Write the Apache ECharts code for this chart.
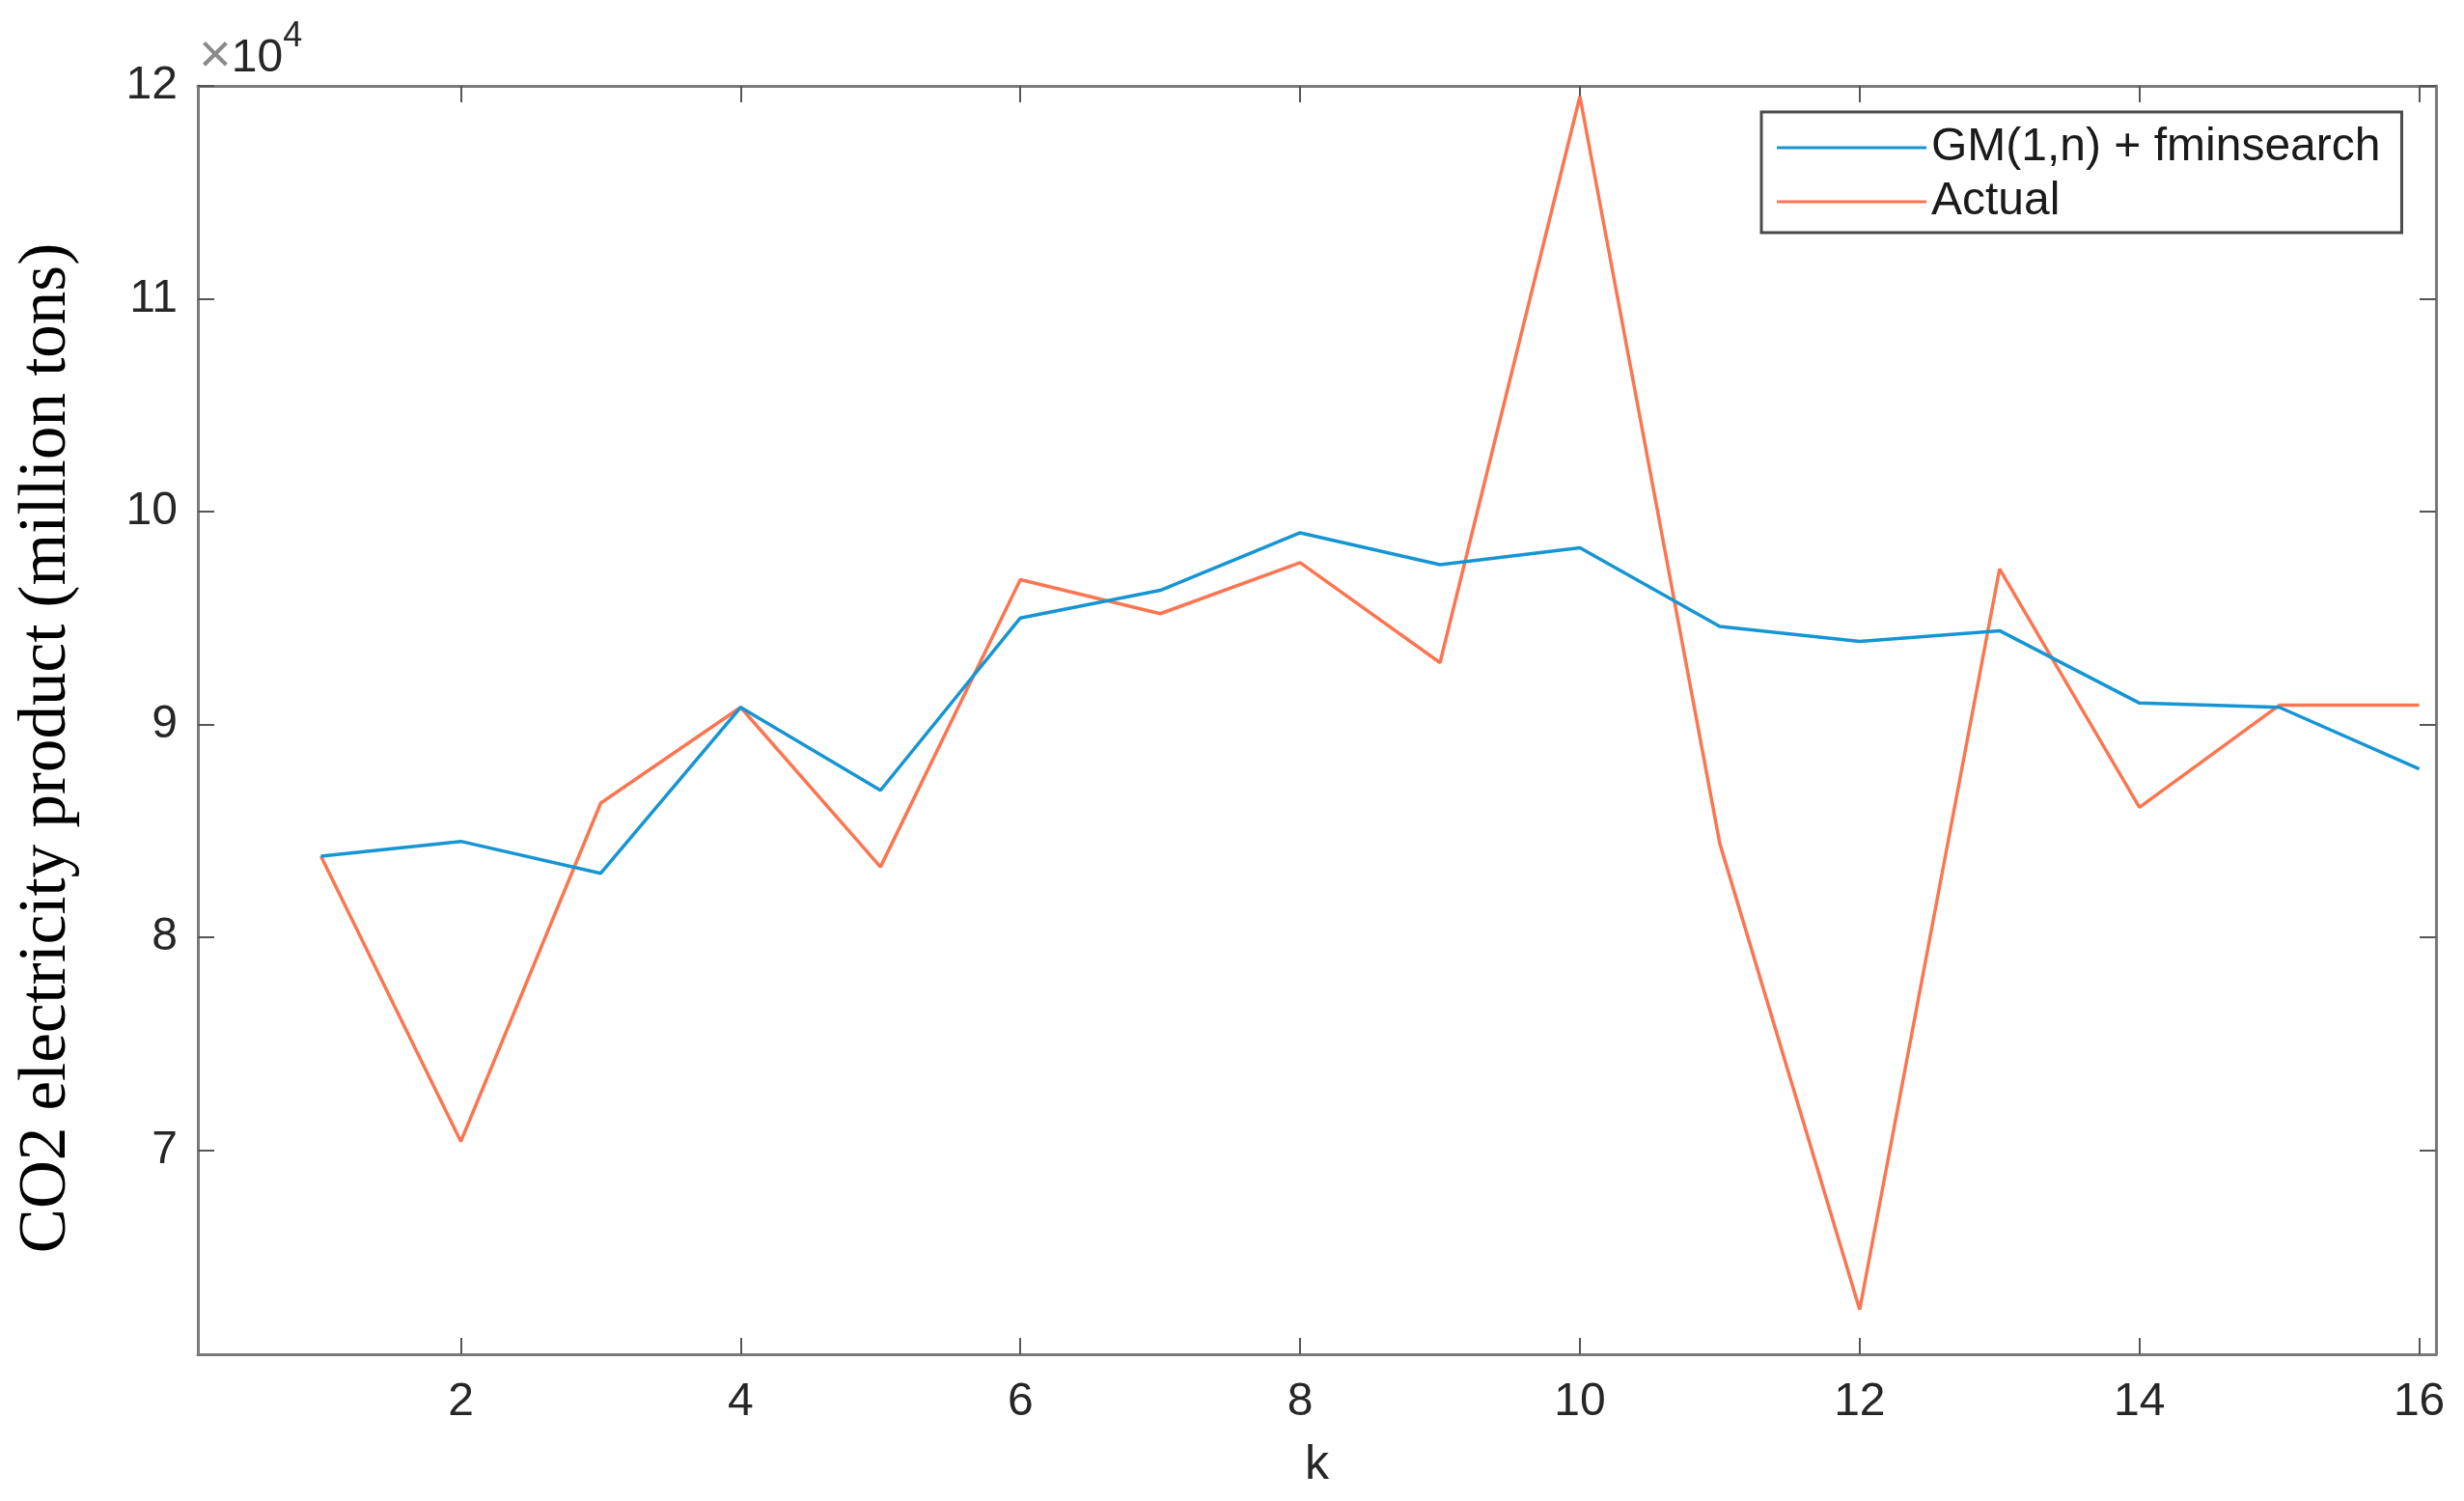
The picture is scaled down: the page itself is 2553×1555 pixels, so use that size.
<!DOCTYPE html>
<html>
<head>
<meta charset="utf-8">
<script src="https://cdn.jsdelivr.net/npm/echarts@6/dist/echarts.min.js"></script>
<style>
  html, body { margin: 0; padding: 0; background: #fff; }
  #main { width: 2553px; height: 1555px; }
</style>
</head>
<body>
<div id="main"></div>
<script>
// k steps
const kValues = [1, 2, 3, 4, 5, 6, 7, 8, 9, 10, 11, 12, 13, 14, 15, 16]
// GM(1,n) + fminsearch fitted values
const gmFit = [83800, 84500, 83000, 90800, 86900, 95000, 96300, 99000, 97500, 98300, 94600, 93900, 94400, 91000, 90800, 87900]
// actual values
const actual = [83800, 70400, 86300, 90800, 83300, 96800, 95200, 97600, 92900, 119500, 84400, 62500, 97300, 86100, 90900, 90900]
// tick labels
const xTicks = [2, 4, 6, 8, 10, 12, 14, 16]
const yTicks = [70000, 80000, 90000, 100000, 110000, 120000]

const chart = echarts.init(document.getElementById('main'))

const axisColor = '#7a7a7a'
const labelColor = '#262626'
const sans = "'Liberation Sans', Arial, sans-serif"

const option = {
    backgroundColor: '#fff',
    animation: false,
    grid: {
        left: 205,
        right: 29,
        top: 89,
        bottom: 152
    },
    legend: {
        orient: 'vertical',
        left: 1825,
        top: 116,
        padding: [13, 22, 8, 16],
        icon: 'rect',
        itemWidth: 155,
        itemHeight: 3,
        itemGap: 8,
        itemTextGap: 14,
        borderColor: '#4a4a4a',
        borderWidth: 3,
        backgroundColor: '#fff',
        textStyle: { fontFamily: sans, fontSize: 48, color: '#1a1a1a', lineHeight: 48 },
        data: ['GM(1,n) + fminsearch', 'Actual']
    },
    xAxis: [
        {
            type: 'value',
            min: 0.12,
            max: 16.12,
            name: 'k',
            nameLocation: 'middle',
            nameGap: 90,
            nameTextStyle: { fontFamily: sans, fontSize: 50, color: labelColor },
            axisLine: { show: true, lineStyle: { color: axisColor, width: 3 } },
            axisTick: { show: true, inside: true, length: 17, customValues: xTicks, lineStyle: { color: '#555', width: 2 } },
            axisLabel: { customValues: xTicks, margin: 26, fontFamily: sans, fontSize: 48, color: labelColor },
            splitLine: { show: false }
        },
        {
            type: 'value',
            position: 'top',
            min: 0.12,
            max: 16.12,
            axisLine: { show: true, lineStyle: { color: axisColor, width: 3 } },
            axisTick: { show: true, inside: true, length: 17, customValues: xTicks, lineStyle: { color: '#555', width: 2 } },
            axisLabel: { show: false },
            splitLine: { show: false }
        }
    ],
    yAxis: [
        {
            type: 'value',
            min: 60400,
            max: 120000,
            axisLine: { show: true, lineStyle: { color: axisColor, width: 3 } },
            axisTick: { show: true, inside: true, length: 17, customValues: yTicks, lineStyle: { color: '#555', width: 2 } },
            axisLabel: {
                customValues: yTicks,
                margin: 21,
                fontFamily: sans,
                fontSize: 48,
                color: labelColor,
                formatter: v => String(Math.round(v / 10000))
            },
            splitLine: { show: false }
        },
        {
            type: 'value',
            position: 'right',
            min: 60400,
            max: 120000,
            axisLine: { show: true, lineStyle: { color: axisColor, width: 3 } },
            axisTick: { show: true, inside: true, length: 17, customValues: yTicks, lineStyle: { color: '#555', width: 2 } },
            axisLabel: { show: false },
            splitLine: { show: false }
        }
    ],
    graphic: [
        {
            // y axis title
            type: 'text',
            x: 49,
            y: 775,
            rotation: Math.PI / 2,
            style: {
                text: 'CO2 electricity product (million tons)',
                fontFamily: "'Liberation Serif', 'Times New Roman', serif",
                fontSize: 69,
                fill: '#000',
                align: 'center',
                verticalAlign: 'middle'
            }
        },
        {
            type: 'text',
            left: 206,
            top: 20,
            style: {
                text: '{x|×}{b|10}{s|4}',
                rich: {
                    x: { fontFamily: sans, fontSize: 58, fill: '#8a8a8a', padding: [12, 0, 0, 0] },
                    b: { fontFamily: sans, fontSize: 48, fill: labelColor, padding: [16, 0, 0, 0] },
                    s: { fontFamily: sans, fontSize: 36, fill: labelColor, padding: [0, 0, 30, 0] }
                }
            }
        }
    ],
    series: [
        {
            name: 'GM(1,n) + fminsearch',
            type: 'line',
            symbol: 'none',
            color: '#1695d3',
            lineStyle: { width: 3.5, color: '#1695d3' },
            data: kValues.map((k, i) => [k, gmFit[i]]),
            z: 3
        },
        {
            name: 'Actual',
            type: 'line',
            symbol: 'none',
            color: '#fb7650',
            lineStyle: { width: 3.5, color: '#fb7650' },
            data: kValues.map((k, i) => [k, actual[i]]),
            z: 2
        }
    ]
}

chart.setOption(option)
</script>
</body>
</html>
